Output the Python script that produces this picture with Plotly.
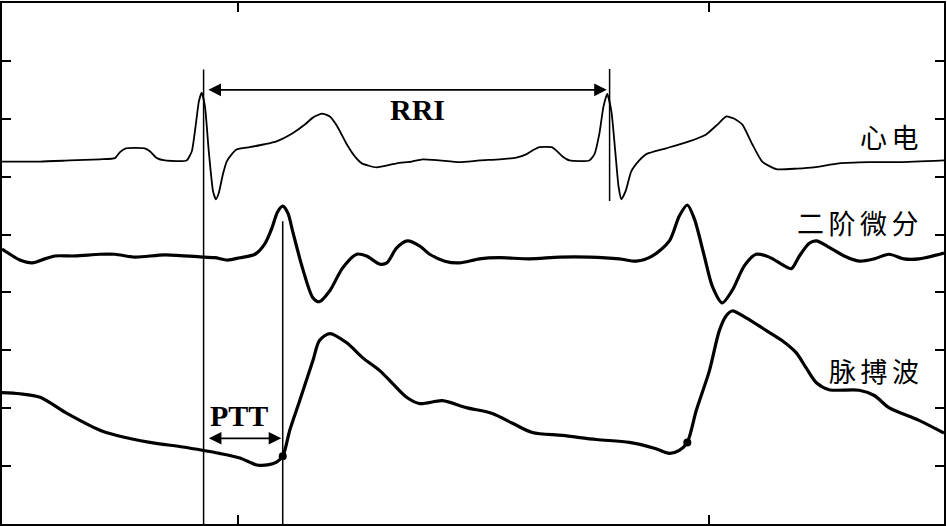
import plotly.graph_objects as go

# ---- data (time in ms, amplitude in plot units) ----
ecg_t = [0, 81, 144, 208, 240, 250, 263, 303, 314, 329, 346, 392, 403, 411, 418, 424, 431, 439, 448, 454,
         460, 469, 477, 488, 498, 526, 558, 583, 617, 643, 660, 679, 696, 711, 732, 749, 764, 795, 838, 870,
         893, 929, 971, 1014, 1056, 1092, 1114, 1130, 1141, 1167, 1177, 1190, 1205, 1247, 1258, 1268, 1277,
         1285, 1294, 1302, 1309, 1315, 1324, 1336, 1353, 1368, 1410, 1459, 1495, 1519, 1538, 1555, 1572,
         1593, 1614, 1644, 1688, 1724, 1777, 1841, 1905, 2000]
ecg_v = [6.26, 6.26, 6.28, 6.30, 6.32, 6.42, 6.49, 6.49, 6.44, 6.32, 6.28, 6.28, 6.44, 6.87, 7.30, 7.45,
         7.21, 6.44, 5.75, 5.61, 5.71, 6.04, 6.26, 6.39, 6.47, 6.51, 6.56, 6.61, 6.75, 6.90, 7.02, 7.09,
         7.04, 6.88, 6.56, 6.35, 6.23, 6.16, 6.23, 6.26, 6.30, 6.28, 6.25, 6.28, 6.30, 6.33, 6.39, 6.47,
         6.51, 6.51, 6.45, 6.35, 6.28, 6.28, 6.39, 6.73, 7.21, 7.43, 7.12, 6.44, 5.83, 5.61, 5.75, 6.09,
         6.28, 6.39, 6.49, 6.61, 6.73, 6.90, 7.04, 7.00, 6.90, 6.56, 6.26, 6.13, 6.14, 6.16, 6.23, 6.25,
         6.25, 6.28]

d2_t = [0, 17, 38, 64, 91, 112, 155, 208, 240, 282, 346, 428, 452, 479, 505, 537, 558, 573, 585, 596,
        607, 617, 638, 660, 674, 696, 723, 753, 774, 802, 817, 838, 861, 887, 908, 940, 971, 1014, 1056,
        1120, 1184, 1247, 1311, 1347, 1381, 1417, 1438, 1455, 1470, 1491, 1508, 1529, 1550, 1576, 1601,
        1629, 1661, 1676, 1693, 1714, 1729, 1756, 1788, 1820, 1852, 1883, 1915, 1947, 2000]
d2_v = [4.75, 4.66, 4.56, 4.51, 4.58, 4.63, 4.63, 4.66, 4.66, 4.61, 4.65, 4.61, 4.60, 4.56, 4.60, 4.66,
        4.84, 5.11, 5.39, 5.49, 5.37, 5.06, 4.42, 3.91, 3.84, 4.03, 4.42, 4.66, 4.63, 4.49, 4.51, 4.77,
        4.89, 4.80, 4.66, 4.54, 4.51, 4.58, 4.60, 4.58, 4.61, 4.61, 4.58, 4.54, 4.63, 4.89, 5.32, 5.51,
        5.27, 4.63, 4.11, 3.82, 4.03, 4.46, 4.66, 4.61, 4.46, 4.41, 4.63, 4.85, 4.89, 4.78, 4.63, 4.54,
        4.58, 4.66, 4.58, 4.58, 4.68]

ppg_t = [0, 38, 81, 138, 208, 244, 314, 384, 428, 462, 505, 541, 564, 583, 596, 611, 632, 660, 674, 696,
         732, 766, 802, 829, 859, 887, 935, 986, 1041, 1084, 1126, 1190, 1262, 1332, 1385, 1417, 1438,
         1455, 1474, 1502, 1523, 1538, 1550, 1580, 1623, 1656, 1686, 1707, 1729, 1756, 1820, 1852, 1883,
         1947, 2000]
ppg_v = [2.27, 2.25, 2.19, 1.91, 1.62, 1.53, 1.41, 1.33, 1.27, 1.22, 1.14, 1.02, 1.02, 1.07, 1.17, 1.62,
         2.13, 2.82, 3.17, 3.29, 3.13, 2.87, 2.65, 2.43, 2.19, 2.08, 2.13, 2.01, 1.91, 1.74, 1.58, 1.53,
         1.46, 1.41, 1.31, 1.22, 1.27, 1.41, 1.96, 2.65, 3.34, 3.60, 3.68, 3.56, 3.34, 3.17, 2.96, 2.70,
         2.44, 2.32, 2.31, 2.22, 2.01, 1.79, 1.57]

r_peaks = [428, 1290]          # R-wave marker times (ms)
ppg_feet = [596, 1455]         # pulse-wave foot times (ms)
labels = ["心\u2006电", "二\u2006阶\u2006微\u2006分", "脉\u2006搏\u2006波"]
label_y = [6.69, 5.21, 2.66]

foot_v = [ppg_v[ppg_t.index(t)] for t in ppg_feet]

fig = go.Figure()
fig.add_trace(go.Scatter(x=ecg_t, y=ecg_v, mode="lines",
                         line=dict(color="black", width=1.8, shape="spline", smoothing=0.5)))
fig.add_trace(go.Scatter(x=d2_t, y=d2_v, mode="lines",
                         line=dict(color="black", width=3.2, shape="spline", smoothing=0.8)))
fig.add_trace(go.Scatter(x=ppg_t, y=ppg_v, mode="lines",
                         line=dict(color="black", width=3.2, shape="spline", smoothing=0.8)))
fig.add_trace(go.Scatter(x=ppg_feet, y=foot_v, mode="markers",
                         marker=dict(color="black", size=8, symbol="circle")))

# vertical marker lines
fig.add_shape(type="line", x0=r_peaks[0], x1=r_peaks[0], y0=0, y1=7.85,
              line=dict(color="black", width=1.5))
fig.add_shape(type="line", x0=ppg_feet[0], x1=ppg_feet[0], y0=0, y1=5.23,
              line=dict(color="black", width=1.5))
fig.add_shape(type="line", x0=r_peaks[1], x1=r_peaks[1], y0=5.58, y1=7.86,
              line=dict(color="black", width=1.5))

# double arrows
arrow_common = dict(xref="x", yref="y", axref="x", ayref="y", text="", showarrow=True,
                    arrowhead=2, startarrowhead=2, arrowside="end+start",
                    arrowsize=1.4, startarrowsize=1.4, arrowwidth=1.8, arrowcolor="black")
fig.add_annotation(x=r_peaks[1] - 6, y=7.50, ax=r_peaks[0] + 7, ay=7.50, **arrow_common)
fig.add_annotation(x=ppg_feet[0] - 3, y=1.48, ax=r_peaks[0] + 8, ay=1.48, **arrow_common)

serif = dict(family="Liberation Serif", size=30, color="black")
fig.add_annotation(x=882, y=7.16, text="<b>RRI</b>", showarrow=False,
                   font=serif, xanchor="center", yanchor="middle")
fig.add_annotation(x=503, y=1.88, text="<b>PTT</b>", showarrow=False,
                   font=serif, xanchor="center", yanchor="middle")

for txt, yy in zip(labels, label_y):
    fig.add_annotation(x=1951, y=yy, text=txt, showarrow=False, xanchor="right", yanchor="middle",
                       font=dict(family="Noto Sans CJK SC", size=27, color="black"))

axis_common = dict(showgrid=False, zeroline=False, showline=True, linecolor="black", linewidth=2,
                   mirror="ticks", ticks="inside", ticklen=9, tickwidth=2, tickcolor="black",
                   showticklabels=False)
fig.update_xaxes(range=[0, 2000], tickvals=[500, 1500], **axis_common)
fig.update_yaxes(range=[0, 9], tickvals=[1, 2, 3, 4, 5, 6, 7, 8], **axis_common)

fig.update_layout(width=947, height=526, margin=dict(l=2, r=2, t=1, b=2),
                  paper_bgcolor="white", plot_bgcolor="white", showlegend=False,
                  hovermode=False)

fig.write_html("out.html", config={"displayModeBar": False},
               post_script="document.body.style.margin='0';document.body.style.overflow='hidden';")
